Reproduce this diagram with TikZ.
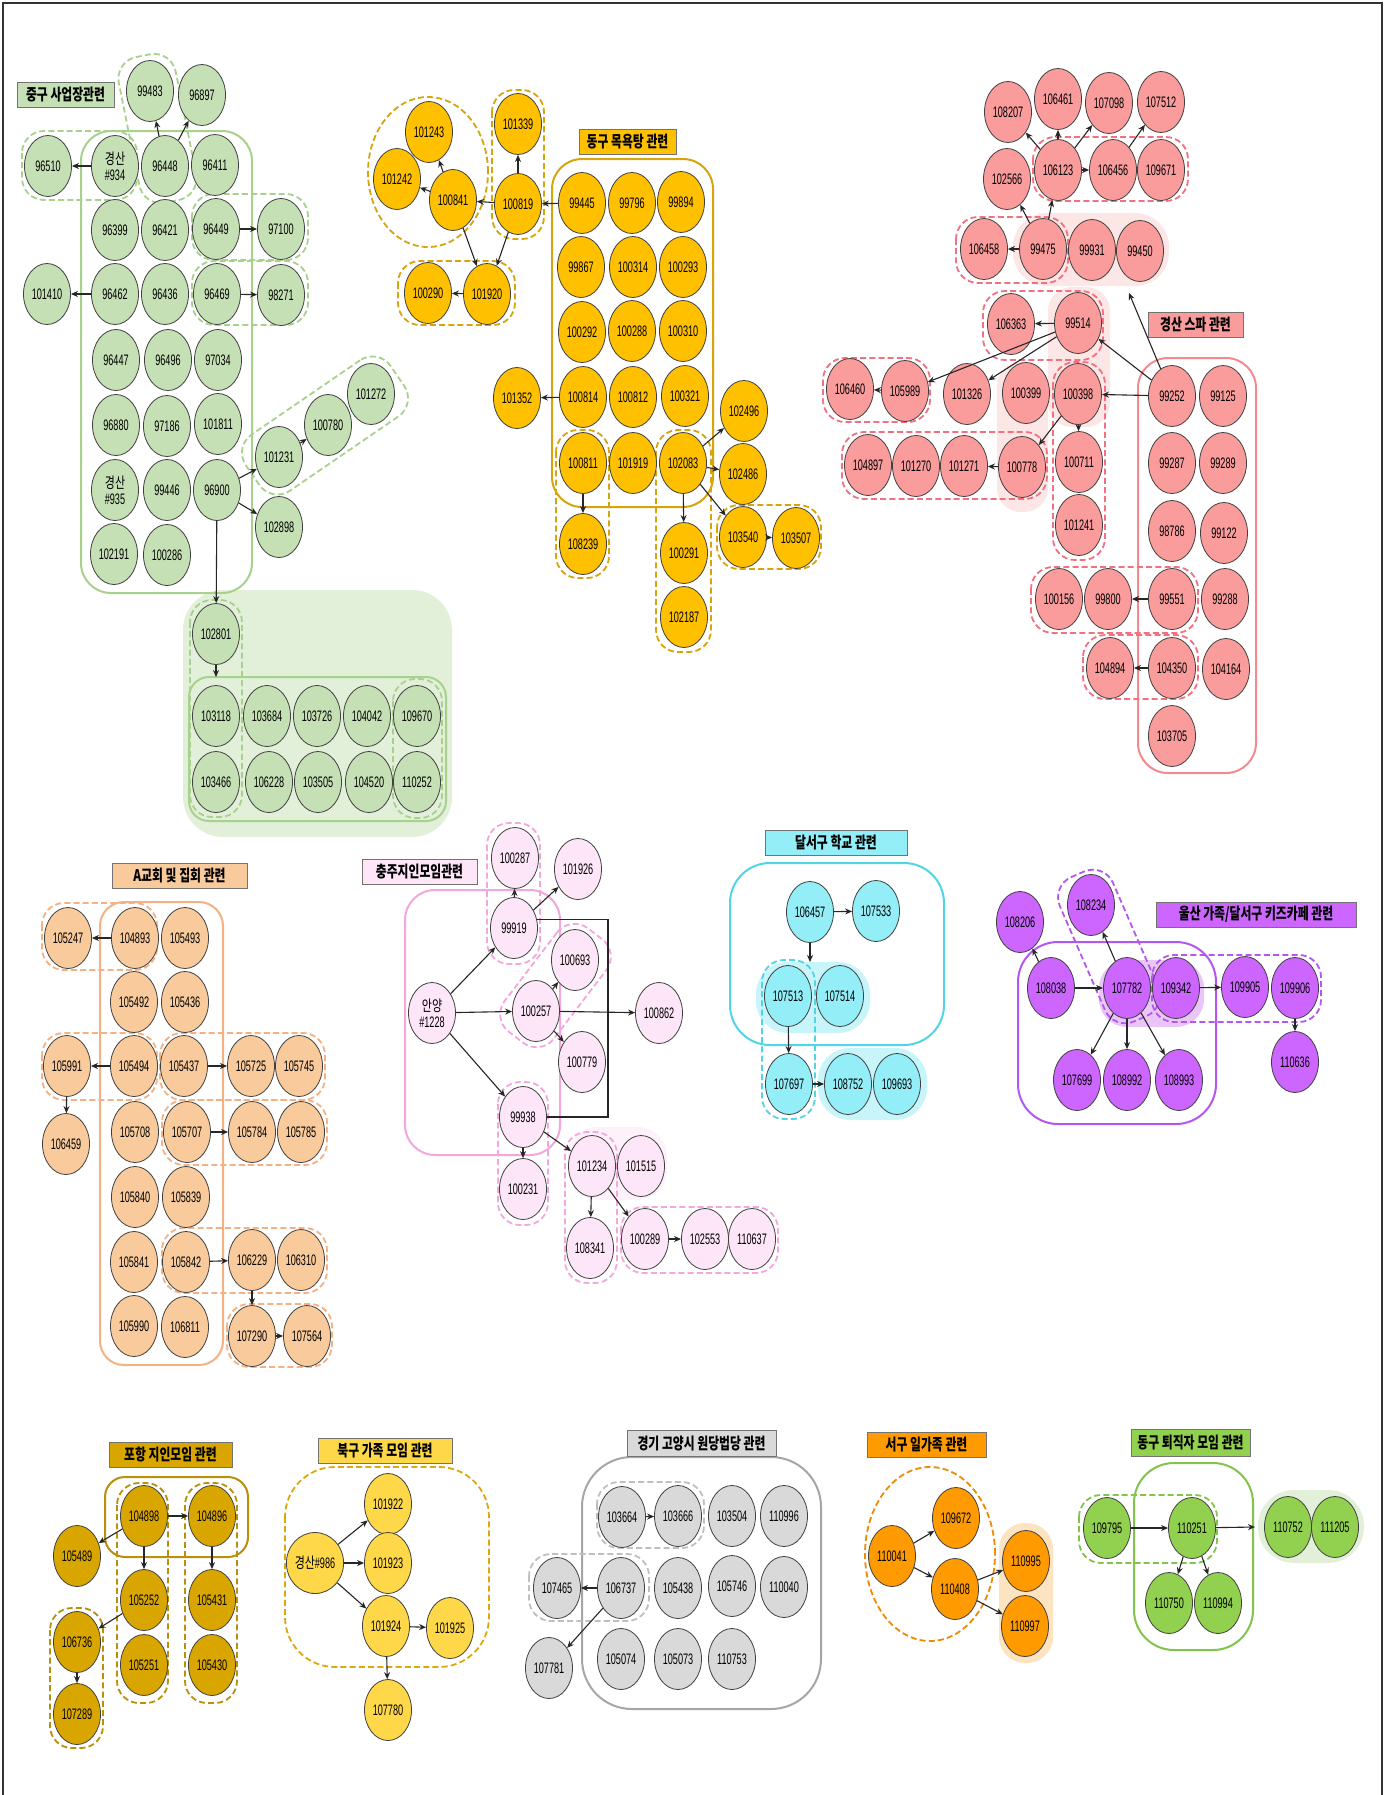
\documentclass[tikz,border=0pt]{standalone}
\usepackage{fontspec}
\setmainfont{Liberation Sans}[FakeStretch=0.6]
\newfontfamily\krn{Noto Sans CJK KR}[FakeStretch=0.72]
\newfontfamily\krt{Noto Sans CJK KR}[FakeStretch=0.74]
\usetikzlibrary{shapes.geometric,arrows.meta,calc}
\pgfdeclarelayer{bgw}\pgfdeclarelayer{bg}\pgfdeclarelayer{grp}
\pgfsetlayers{bgw,bg,grp,main}
\newcommand\nfont{\fontsize{7.6}{8}\selectfont}
\newcommand\tfont{\krt\bfseries\fontsize{8}{9}\selectfont}
\definecolor{gN}{HTML}{C5E0B4}\definecolor{gL}{HTML}{A9D18E}\definecolor{gB}{HTML}{E2F0D9}
\definecolor{yN}{HTML}{FFC000}\definecolor{yL}{HTML}{D6A50B}
\definecolor{rN}{HTML}{FA9C9C}\definecolor{rL}{HTML}{F2707F}\definecolor{rS}{HTML}{F58A8E}\definecolor{rB}{HTML}{FCE6E6}
\definecolor{oN}{HTML}{F9CB9C}\definecolor{oL}{HTML}{F4B183}
\definecolor{pN}{HTML}{FDE6F8}\definecolor{pL}{HTML}{F4A6DD}\definecolor{pB}{HTML}{FDF1FA}
\definecolor{cN}{HTML}{93EEF8}\definecolor{cL}{HTML}{4FD5E5}\definecolor{cB}{HTML}{C8F5FA}
\definecolor{uN}{HTML}{CC66FF}\definecolor{uL}{HTML}{B656F0}\definecolor{uB}{HTML}{EAC6F8}
\definecolor{hN}{HTML}{D9A600}\definecolor{hL}{HTML}{B8900A}
\definecolor{bN}{HTML}{FFD84A}\definecolor{bL}{HTML}{DDA80C}
\definecolor{kN}{HTML}{D9D9D9}\definecolor{kL}{HTML}{A6A6A6}\definecolor{kD}{HTML}{BFBFBF}
\definecolor{sN}{HTML}{FF9B00}\definecolor{sL}{HTML}{F08A00}\definecolor{sB}{HTML}{FDE3C0}
\definecolor{tN}{HTML}{92D050}\definecolor{tL}{HTML}{82C44A}\definecolor{tB}{HTML}{E2F0D9}
\newcommand\E[4]{\node[#1] (n#2) at (#3,#4) {#2};}
\newcommand\ttlbox[7]{\node[ttl, fill=#1, minimum width={(#4-#2)*0.5pt}, minimum height={(#5-#3)*0.5pt}] (#7) at ({(#2+#4)/2},{(#3+#5)/2}) {#6};}
\newcommand\capsule[5]{%
  \path let \p1=(#2.center), \p2=(#3.center),
    \n1={atan2(\y2-\y1,\x2-\x1)}, \n2={veclen(\x2-\x1,\y2-\y1)} in
    node[#1, rectangle, rotate=\n1, minimum width={\n2+#4}, minimum height={#5}, inner sep=0pt]
    at ($(\p1)!0.5!(\p2)$) {};}
\begin{document}
\begin{tikzpicture}[x=0.5pt,y=-0.5pt,
  nd/.style={ellipse, draw=black!75, line width=0.4pt, minimum width=23.5pt, minimum height=30.5pt, inner sep=0pt, font=\nfont, align=center},
  gn/.style={nd, fill=gN}, yn/.style={nd, fill=yN}, rn/.style={nd, fill=rN},
  on/.style={nd, fill=oN}, pn/.style={nd, fill=pN}, cn/.style={nd, fill=cN},
  un/.style={nd, fill=uN}, hn/.style={nd, fill=hN}, bn/.style={nd, fill=bN},
  kn/.style={nd, fill=kN}, sn/.style={nd, fill=sN}, tn/.style={nd, fill=tN},
  ttl/.style={draw=black!55, line width=0.5pt, inner sep=0pt, font=\tfont},
  arr/.style={-{Stealth[length=3.5pt,width=3pt]}, line width=0.55pt, draw=black!85},
  dsh/.style={draw=#1, dash pattern=on 3pt off 1.6pt, line width=0.9pt, rounded corners=11pt},
  sol/.style={draw=#1, line width=1pt}]
\useasboundingbox (0,0) rectangle (1387,1795);
\begin{pgfonlayer}{bgw}\fill[white] (0,0) rectangle (1387,1795);\end{pgfonlayer}
\draw[line width=1pt, black!80] (3,1795) -- (3,3) -- (1382,3) -- (1382,1795);

% ---------- titles
\ttlbox{gN}{17}{82}{114}{107}{중구 사업장관련}{t1}
\ttlbox{yN}{579}{129}{676}{154}{동구 목욕탕 관련}{t2}
\ttlbox{rN}{1148}{312}{1243}{337}{경산 스파 관련}{t3}
\ttlbox{oN}{112}{863}{247}{888}{A교회 및 집회 관련}{t4}
\ttlbox{pN}{362}{859}{477}{884}{충주지인모임관련}{t5}
\ttlbox{cN}{765}{830}{907}{855}{달서구 학교 관련}{t6}
\ttlbox{uN}{1156}{902}{1356}{927}{울산 가족/달서구 키즈카페 관련}{t7}
\ttlbox{hN}{109}{1442}{232}{1467}{포항 지인모임 관련}{t8}
\ttlbox{bN}{318}{1438}{452}{1463}{북구 가족 모임 관련}{t9}
\ttlbox{kN}{627}{1430}{776}{1456}{경기 고양시 원당법당 관련}{t10}
\ttlbox{sN}{867}{1432}{986}{1457}{서구 일가족 관련}{t11}
\ttlbox{tN}{1131}{1429}{1250}{1456}{동구 퇴직자 모임 관련}{t12}

% ---------- green
\E{gn}{99483}{150}{91}\E{gn}{96897}{202}{95}\E{gn}{96510}{48}{166}
\node[gn] (k934) at (115,166) {{\krn 경산}\\\#934};
\E{gn}{96448}{165}{166}\E{gn}{96411}{215}{165}
\E{gn}{96399}{115}{230}\E{gn}{96421}{165}{230}\E{gn}{96449}{216}{229}\E{gn}{97100}{281}{229}
\E{gn}{101410}{47}{294}\E{gn}{96462}{115}{294}\E{gn}{96436}{165}{294}\E{gn}{96469}{217}{294}\E{gn}{98271}{281}{295}
\E{gn}{96447}{116}{360}\E{gn}{96496}{168}{360}\E{gn}{97034}{218}{360}
\E{gn}{96880}{116}{425}\E{gn}{97186}{167}{426}\E{gn}{101811}{218}{424}
\E{gn}{101272}{371}{394}\E{gn}{100780}{328}{425}\E{gn}{101231}{279}{457}
\node[gn] (k935) at (115,490) {{\krn 경산}\\\#935};
\E{gn}{99446}{167}{490}\E{gn}{96900}{217}{490}\E{gn}{102898}{279}{527}
\E{gn}{102191}{114}{554}\E{gn}{100286}{167}{555}
\E{gn}{102801}{216}{634}
\E{gn}{103118}{216}{716}\E{gn}{103684}{267}{716}\E{gn}{103726}{317}{716}\E{gn}{104042}{367}{716}\E{gn}{109670}{417}{716}
\E{gn}{103466}{216}{782}\E{gn}{106228}{269}{782}\E{gn}{103505}{318}{782}\E{gn}{104520}{369}{782}\E{gn}{110252}{417}{782}
\coordinate (g1t) at (216,677);

% ---------- yellow
\E{yn}{101243}{429}{132}\E{yn}{101242}{397}{179}\E{yn}{100841}{453}{200}
\E{yn}{100290}{428}{293}\E{yn}{101920}{487}{294}
\E{yn}{101339}{518}{124}\E{yn}{100819}{518}{204}
\E{yn}{99445}{582}{203}\E{yn}{99796}{632}{203}\E{yn}{99894}{681}{202}
\E{yn}{99867}{581}{267}\E{yn}{100314}{633}{267}\E{yn}{100293}{683}{267}
\E{yn}{100292}{582}{332}\E{yn}{100288}{632}{331}\E{yn}{100310}{683}{331}
\E{yn}{101352}{517}{398}\E{yn}{100814}{583}{397}\E{yn}{100812}{633}{397}\E{yn}{100321}{685}{396}
\E{yn}{102496}{744}{411}
\E{yn}{100811}{583}{463}\E{yn}{101919}{633}{463}\E{yn}{102083}{683}{463}\E{yn}{102486}{743}{474}
\E{yn}{108239}{583}{544}\E{yn}{100291}{684}{553}\E{yn}{102187}{684}{617}
\E{yn}{103540}{743}{537}\E{yn}{103507}{796}{538}

% ---------- red / pink
\E{rn}{108207}{1008}{112}\E{rn}{106461}{1058}{99}\E{rn}{107098}{1109}{103}\E{rn}{107512}{1161}{102}
\E{rn}{102566}{1007}{179}\E{rn}{106123}{1058}{170}\E{rn}{106456}{1113}{170}\E{rn}{109671}{1161}{170}
\E{rn}{106458}{984}{249}\E{rn}{99475}{1043}{249}\E{rn}{99931}{1092}{250}\E{rn}{99450}{1140}{251}
\E{rn}{106363}{1011}{324}\E{rn}{99514}{1078}{323}
\E{rn}{101326}{967}{394}\E{rn}{100399}{1026}{393}\E{rn}{100398}{1078}{394}\E{rn}{99252}{1172}{396}\E{rn}{99125}{1223}{396}
\E{rn}{106460}{850}{389}\E{rn}{105989}{905}{391}
\E{rn}{104897}{868}{465}\E{rn}{101270}{916}{466}\E{rn}{101271}{964}{466}\E{rn}{100778}{1022}{467}
\E{rn}{100711}{1079}{462}\E{rn}{101241}{1079}{525}
\E{rn}{99287}{1172}{463}\E{rn}{99289}{1223}{463}\E{rn}{98786}{1172}{531}\E{rn}{99122}{1224}{533}
\E{rn}{100156}{1059}{599}\E{rn}{99800}{1108}{599}\E{rn}{99551}{1172}{599}\E{rn}{99288}{1225}{599}
\E{rn}{104894}{1110}{668}\E{rn}{104350}{1172}{668}\E{rn}{104164}{1226}{669}
\E{rn}{103705}{1172}{736}
\coordinate (r1t) at (1129,293);

% ---------- orange (A)
\E{on}{105247}{68}{938}\E{on}{104893}{135}{938}\E{on}{105493}{185}{938}
\E{on}{105492}{134}{1002}\E{on}{105436}{185}{1002}
\E{on}{105991}{67}{1066}\E{on}{105494}{134}{1066}\E{on}{105437}{184}{1066}\E{on}{105725}{251}{1066}\E{on}{105745}{299}{1066}
\E{on}{106459}{66}{1144}
\E{on}{105708}{135}{1132}\E{on}{105707}{187}{1132}\E{on}{105784}{252}{1132}\E{on}{105785}{301}{1132}
\E{on}{105840}{135}{1197}\E{on}{105839}{186}{1197}
\E{on}{105841}{134}{1262}\E{on}{105842}{186}{1262}\E{on}{106229}{252}{1260}\E{on}{106310}{301}{1260}
\E{on}{105990}{134}{1326}\E{on}{106811}{185}{1327}\E{on}{107290}{252}{1336}\E{on}{107564}{307}{1336}

% ---------- light pink
\E{pn}{100287}{515}{858}\E{pn}{101926}{578}{869}\E{pn}{99919}{514}{928}\E{pn}{100693}{575}{960}
\node[pn] (a1228) at (432,1013) {{\krn 안양}\\\#1228};
\E{pn}{100257}{536}{1011}\E{pn}{100862}{659}{1013}\E{pn}{100779}{582}{1062}
\E{pn}{99938}{523}{1117}\E{pn}{100231}{523}{1189}
\E{pn}{101234}{592}{1166}\E{pn}{101515}{641}{1166}
\E{pn}{108341}{590}{1248}\E{pn}{100289}{645}{1239}\E{pn}{102553}{705}{1239}\E{pn}{110637}{752}{1239}
\coordinate (pb1) at (608,914);

% ---------- cyan
\E{cn}{106457}{810}{912}\E{cn}{107533}{876}{911}
\E{cn}{107513}{788}{996}\E{cn}{107514}{840}{996}
\E{cn}{107697}{789}{1084}\E{cn}{108752}{848}{1084}\E{cn}{109693}{897}{1084}
\coordinate (c1t) at (810,962);

% ---------- purple
\E{un}{108206}{1020}{922}\E{un}{108234}{1091}{905}
\E{un}{108038}{1051}{988}\E{un}{107782}{1127}{988}\E{un}{109342}{1176}{988}
\E{un}{109905}{1245}{987}\E{un}{109906}{1295}{988}\E{un}{110636}{1295}{1062}
\E{un}{107699}{1077}{1080}\E{un}{108992}{1127}{1080}\E{un}{108993}{1179}{1080}

% ---------- pohang
\E{hn}{104898}{144}{1516}\E{hn}{104896}{212}{1516}\E{hn}{105489}{77}{1556}
\E{hn}{105252}{144}{1600}\E{hn}{105431}{212}{1600}\E{hn}{106736}{77}{1642}
\E{hn}{105251}{144}{1665}\E{hn}{105430}{212}{1665}\E{hn}{107289}{77}{1714}

% ---------- bukgu
\E{bn}{101922}{388}{1504}
\node[bn] (k986) at (315,1563) {{\krn 경산}\#986};
\E{bn}{101923}{388}{1563}\E{bn}{101924}{386}{1626}\E{bn}{101925}{450}{1628}\E{bn}{107780}{388}{1710}

% ---------- gyeonggi
\E{kn}{103664}{622}{1517}\E{kn}{103666}{678}{1516}\E{kn}{103504}{732}{1516}\E{kn}{110996}{784}{1516}
\E{kn}{107465}{557}{1588}\E{kn}{106737}{621}{1588}\E{kn}{105438}{678}{1588}\E{kn}{105746}{732}{1586}\E{kn}{110040}{784}{1587}
\E{kn}{107781}{549}{1668}\E{kn}{105074}{621}{1659}\E{kn}{105073}{678}{1659}\E{kn}{110753}{732}{1659}

% ---------- seogu
\E{sn}{110041}{892}{1556}\E{sn}{109672}{956}{1518}\E{sn}{110408}{955}{1589}
\E{sn}{110995}{1026}{1561}\E{sn}{110997}{1025}{1626}

% ---------- donggu retirees
\E{tn}{109795}{1107}{1528}\E{tn}{110251}{1192}{1528}\E{tn}{110750}{1169}{1603}\E{tn}{110994}{1218}{1603}
\E{tn}{110752}{1288}{1527}\E{tn}{111205}{1335}{1527}
\coordinate (t1t) at (1255,1527);

% ================= group backgrounds
\begin{pgfonlayer}{bg}
\fill[gB, rounded corners=20pt] (183,590) rectangle (452,837);
\fill[rB, rounded corners=17pt] (1013,213) rectangle (1169,286);
\fill[rB, rounded corners=12pt] (1048,287) rectangle (1110,427);
\fill[rB, rounded corners=12pt] (997,362) rectangle (1048,512);
\fill[pB, rounded corners=15pt] (568,1127) rectangle (667,1200);
\fill[cB, rounded corners=16pt] (756,962) rectangle (870,1033);
\fill[cB, rounded corners=16pt] (818,1048) rectangle (927,1120);
\fill[uB, rounded corners=14pt] (1099,960) rectangle (1204,1027);
\fill[sB, rounded corners=13pt] (999,1523) rectangle (1053,1663);
\fill[tB, rounded corners=18pt] (1258,1490) rectangle (1364,1563);
\end{pgfonlayer}

% ================= group outlines
\begin{pgfonlayer}{grp}
% green
\draw[sol=gL, rounded corners=15pt] (81,131) rectangle (252,593);
\draw[dsh=gL] (22,131) rectangle (137,200);
\capsule{dsh=gL}{n99483}{n96448}{36pt}{29pt}
\draw[dsh=gL] (192,194) rectangle (308,260);
\draw[dsh=gL] (192,261) rectangle (308,325);
\capsule{dsh=gL}{n101231}{n101272}{32pt}{34pt}
\draw[sol=gL, rounded corners=10pt] (189,677) rectangle (446,821);
\draw[dsh=gL] (190,600) rectangle (242,817);
\draw[dsh=gL] (393,679) rectangle (442,818);
% yellow
\draw[dsh=yL] (428,172) ellipse [x radius=30pt, y radius=37.5pt];
\draw[dsh=yL] (398,261) rectangle (515,325);
\draw[dsh=yL] (492,90) rectangle (544,239);
\draw[sol=yL, rounded corners=15pt] (552,159) rectangle (713,507);
\draw[dsh=yL] (556,430) rectangle (609,578);
\draw[dsh=yL] (656,430) rectangle (711,652);
\draw[dsh=yL] (717,505) rectangle (821,569);
% red
\draw[dsh=rL] (1033,137) rectangle (1188,201);
\draw[dsh=rL] (956,217) rectangle (1068,283);
\draw[dsh=rL] (983,291) rectangle (1103,360);
\draw[dsh=rL] (1053,362) rectangle (1105,560);
\draw[sol=rS, rounded corners=15pt] (1138,358) rectangle (1256,773);
\draw[dsh=rL] (823,358) rectangle (930,422);
\draw[dsh=rL] (842,432) rectangle (1047,499);
\draw[dsh=rL] (1031,567) rectangle (1198,633);
\draw[dsh=rL] (1083,635) rectangle (1198,699);
% orange
\draw[sol=oL, rounded corners=12pt] (100,902) rectangle (223,1365);
\draw[dsh=oL] (42,903) rectangle (157,970);
\draw[dsh=oL] (42,1033) rectangle (157,1100);
\draw[dsh=oL] (160,1033) rectangle (325,1100);
\draw[dsh=oL] (162,1100) rectangle (327,1165);
\draw[dsh=oL] (162,1228) rectangle (327,1293);
\draw[dsh=oL] (227,1304) rectangle (332,1367);
% light pink
\draw[sol=pL, rounded corners=15pt] (405,890) rectangle (560,1155);
\draw[dsh=pL] (487,823) rectangle (540,964);
\capsule{dsh=pL}{n100257}{n100693}{33pt}{31pt}
\draw[dsh=pL] (498,1082) rectangle (548,1225);
\draw[dsh=pL] (565,1132) rectangle (617,1283);
\draw[dsh=pL] (621,1207) rectangle (778,1273);
% cyan
\draw[sol=cL, rounded corners=20pt] (730,863) rectangle (944,1045);
\draw[dsh=cL] (762,960) rectangle (815,1119);
% purple
\draw[sol=uL, rounded corners=20pt] (1018,942) rectangle (1216,1124);
\capsule{dsh=uL}{n108234}{n107782}{33.5pt}{29pt}
\draw[dsh=uL] (1152,955) rectangle (1321,1022);
% pohang
\draw[sol=hL, rounded corners=10pt] (105,1477) rectangle (248,1557);
\draw[dsh=hL] (117,1483) rectangle (168,1703);
\draw[dsh=hL] (185,1483) rectangle (237,1703);
\draw[dsh=hL] (50,1608) rectangle (103,1748);
% bukgu
\draw[dsh=bL, rounded corners=25pt] (285,1467) rectangle (489,1667);
% gyeonggi
\draw[sol=kL, rounded corners=25pt] (582,1457) rectangle (821,1709);
\draw[dsh=kD] (597,1482) rectangle (704,1548);
\draw[dsh=kD] (529,1554) rectangle (649,1621);
% seogu
\draw[dsh=sL] (930,1554) ellipse [x radius=32.5pt, y radius=43.5pt];
% donggu retirees
\draw[sol=tL, rounded corners=20pt] (1134,1463) rectangle (1253,1650);
\draw[dsh=tL] (1079,1495) rectangle (1217,1563);
\end{pgfonlayer}

% ================= arrows
% green
\draw[arr] (k934) -- (n96510);
\draw[arr] (n96448) -- (n99483);
\draw[arr] (n96448) -- (n96897);
\draw[arr] (n96449) -- (n97100);
\draw[arr] (n96462) -- (n101410);
\draw[arr] (n96469) -- (n98271);
\draw[arr] (n96900) -- (n101231);
\draw[arr] (n96900) -- (n102898);
\draw[arr] (n101231) -- (n100780);
\draw[arr] (n96900) -- (n102801);
\draw[arr] (n102801) -- (g1t);
% yellow
\draw[arr] (n100841) -- (n101242);
\draw[arr] (n100841) -- (n101243);
\draw[arr] (n100841) -- (n101920);
\draw[arr] (n100819) -- (n100841);
\draw[arr] (n100819) -- (n101339);
\draw[arr] (n100819) -- (n101920);
\draw[arr] (n99445) -- (n100819);
\draw[arr] (n101920) -- (n100290);
\draw[arr] (n100814) -- (n101352);
\draw[arr] (n100811) -- (n108239);
\draw[arr] (n102083) -- (n102496);
\draw[arr] (n102083) -- (n102486);
\draw[arr] (n102083) -- (n100291);
\draw[arr] (n102083) -- (n103540);
\draw[arr] (n103540) -- (n103507);
% red
\draw[arr] (n106123) -- (n108207);
\draw[arr] (n106123) -- (n106461);
\draw[arr] (n106123) -- (n107098);
\draw[arr] (n106123) -- (n106456);
\draw[arr] (n106456) -- (n107512);
\draw[arr] (n99475) -- (n102566);
\draw[arr] (n99475) -- (n106123);
\draw[arr] (n99475) -- (n106458);
\draw[arr] (n99252) -- (r1t);
\draw[arr] (n99252) -- (n99514);
\draw[arr] (n99252) -- (n100398);
\draw[arr] (n99514) -- (n106363);
\draw[arr] (n99514) -- (n105989);
\draw[arr] (n99514) -- (n101326);
\draw[arr] (n105989) -- (n106460);
\draw[arr] (n100398) -- (n100711);
\draw[arr] (n100398) -- (n100778);
\draw[arr] (n100778) -- (n101271);
\draw[arr] (n99551) -- (n99800);
\draw[arr] (n104350) -- (n104894);
% orange
\draw[arr] (n104893) -- (n105247);
\draw[arr] (n105494) -- (n105991);
\draw[arr] (n105991) -- (n106459);
\draw[arr] (n105437) -- (n105725);
\draw[arr] (n105707) -- (n105784);
\draw[arr] (n105842) -- (n106229);
\draw[arr] (n106229) -- (n107290);
\draw[arr] (n107290) -- (n107564);
% light pink
\draw[arr] (a1228) -- (n99919);
\draw[arr] (a1228) -- (n100257);
\draw[arr] (a1228) -- (n99938);
\draw[arr] (n99919) -- (n100287);
\draw[arr] (n99919) -- (n101926);
\draw[arr] (n100257) -- (n100693);
\draw[arr] (n100257) -- (n100779);
\draw[arr] (n100257) -- (n100862);
\draw[line width=0.55pt, draw=black!85] (n99919.20) -- (n99919.20 -| pb1) |- (n99938.east);
\draw[arr] (n99938) -- (n100231);
\draw[arr] (n99938) -- (n101234);
\draw[arr] (n101234) -- (n108341);
\draw[arr] (n101234) -- (n100289);
\draw[arr] (n100289) -- (n102553);
% cyan
\draw[arr] (n106457) -- (n107533);
\draw[arr] (n106457) -- (c1t);
\draw[arr] (n107513) -- (n107697);
\draw[arr] (n107697) -- (n108752);
% purple
\draw[arr] (n108038) -- (n108206);
\draw[arr] (n108038) -- (n107782);
\draw[arr] (n107782) -- (n108234);
\draw[arr] (n107782) -- (n107699);
\draw[arr] (n107782) -- (n108992);
\draw[arr] (n107782) -- (n108993);
\draw[arr] (n109342) -- (n109905);
\draw[arr] (n109906) -- (n110636);
% pohang
\draw[arr] (n104898) -- (n104896);
\draw[arr] (n104898) -- (n105489);
\draw[arr] (n104898) -- (n105252);
\draw[arr] (n104896) -- (n105431);
\draw[arr] (n105252) -- (n106736);
\draw[arr] (n106736) -- (n107289);
% bukgu
\draw[arr] (k986) -- (n101922);
\draw[arr] (k986) -- (n101923);
\draw[arr] (k986) -- (n101924);
\draw[arr] (n101924) -- (n101925);
\draw[arr] (n101924) -- (n107780);
% gyeonggi
\draw[arr] (n103664) -- (n103666);
\draw[arr] (n106737) -- (n107465);
\draw[arr] (n106737) -- (n107781);
% seogu
\draw[arr] (n110041) -- (n109672);
\draw[arr] (n110041) -- (n110408);
\draw[arr] (n110408) -- (n110995);
\draw[arr] (n110408) -- (n110997);
% donggu retirees
\draw[arr] (n109795) -- (n110251);
\draw[arr] (n110251) -- (t1t);
\draw[arr] (n110251) -- (n110750);
\draw[arr] (n110251) -- (n110994);
\end{tikzpicture}
\end{document}
